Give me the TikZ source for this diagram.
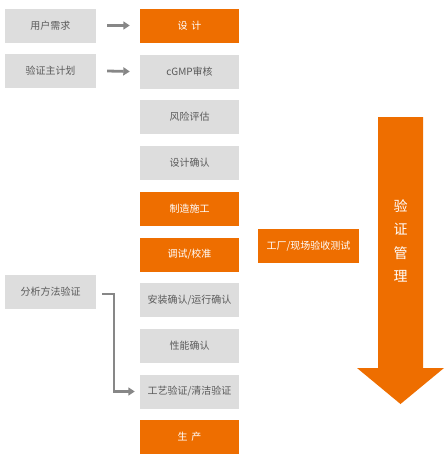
\documentclass[tikz,border=0pt]{standalone}
\usepackage{fontspec}
\setmainfont{Noto Sans CJK SC}
\usetikzlibrary{arrows.meta}
\definecolor{org}{RGB}{238,110,0}
\definecolor{gbg}{RGB}{221,221,221}
\definecolor{gtx}{RGB}{90,90,90}
\definecolor{garr}{RGB}{135,135,135}
\tikzset{
  base/.style={minimum height=34pt, inner sep=0pt, font=\fontsize{10pt}{12pt}\selectfont},
  gbox/.style={base, fill=gbg, text=gtx, minimum width=99pt},
  lbox/.style={base, fill=gbg, text=gtx, minimum width=91pt},
  obox/.style={base, fill=org, text=white, minimum width=99pt},
  garrow/.style={draw=garr, line width=2.8pt, -{Triangle[length=6.5pt,width=8pt]}},
  vtext/.style={text=white, font=\fontsize{14pt}{16pt}\selectfont, inner sep=0pt}
}
\begin{document}
\begin{tikzpicture}[x=1pt,y=-1pt]
\useasboundingbox (0,0) rectangle (447,458);
% left column
\node[lbox] (yh) at (50.5,25.5) {用户需求};
\node[lbox] (yz) at (50.5,71) {验证主计划};
\node[lbox] (fx) at (50.5,292) {分析方法验证};
% center column
\node[obox] (sj) at (189.5,25.5) {设\hspace{0.4em}计};
\node[gbox] (cg) at (189.5,71.5) {cGMP审核};
\node[gbox] (fp) at (189.5,117) {风险评估};
\node[gbox] (sq) at (189.5,163) {设计确认};
\node[obox] (zz) at (189.5,209) {制造施工};
\node[obox] (ts) at (189.5,254.5) {调试/校准};
\node[gbox] (az) at (189.5,300) {安装确认/运行确认};
\node[gbox] (xn) at (189.5,346) {性能确认};
\node[gbox] (gy) at (189.5,391.5) {工艺验证/清洁验证};
\node[obox] (sc) at (189.5,437) {生\hspace{0.4em}产};
% factory
\node[obox, minimum width=101pt] (gc) at (308.5,246) {工厂/现场验收测试};
% arrows
\draw[garrow] ([xshift=11pt]yh.east) -- ([xshift=-10pt]sj.west);
\draw[garrow] ([xshift=11pt]yz.east) -- ([xshift=-10pt]cg.west);
\coordinate (b1) at ([xshift=6pt,yshift=-2pt]fx.east);
\draw[draw=garr, line width=2.6pt] (b1) -- ++(13,0) coordinate (b2);
\draw[garrow, line width=2.6pt] ([xshift=-1.3pt]b2) |- ([xshift=-5pt]gy.west);
% big arrow
\fill[org] (378,117) -- (423,117) -- (423,368) -- (444,368) -- (400.5,404) -- (357,368) -- (378,368) -- cycle;
\node[vtext] (v1) at (400.5,206) {验};
\node[vtext] (v2) at (400.5,229.5) {证};
\node[vtext] (v3) at (400.5,253) {管};
\node[vtext] (v4) at (400.5,276.5) {理};
\end{tikzpicture}
\end{document}
